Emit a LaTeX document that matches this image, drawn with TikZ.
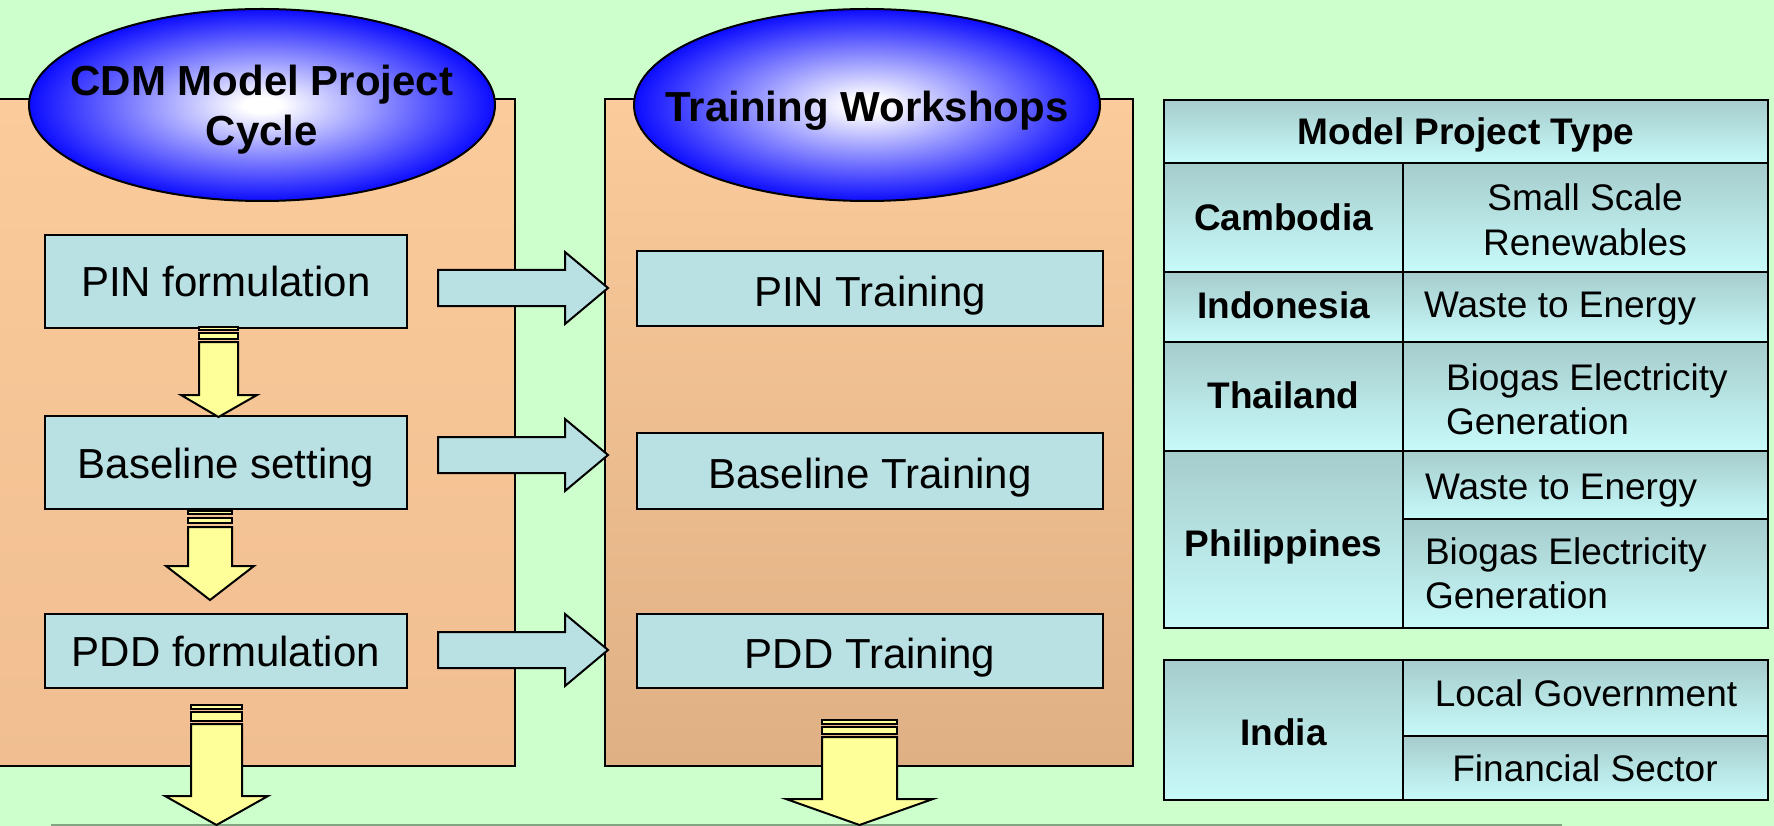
\documentclass[tikz,border=0pt]{standalone}
\usepackage{fontspec}
\setmainfont{Liberation Sans}
\usetikzlibrary{shapes.geometric}
\definecolor{bg}{RGB}{204,255,204}
\definecolor{peachtop}{RGB}{251,203,155}
\definecolor{peachA}{RGB}{240,190,145}
\definecolor{peachB}{RGB}{223,176,132}
\definecolor{boxblue}{RGB}{185,224,227}
\definecolor{celltop}{RGB}{166,204,204}
\definecolor{cellbot}{RGB}{200,250,250}
\definecolor{arrowyellow}{RGB}{255,255,153}
\definecolor{ellblue}{RGB}{12,12,255}
\definecolor{edgegray}{RGB}{128,165,128}
\pgfdeclareradialshading{ellshade}{\pgfpoint{0bp}{0bp}}{color(0bp)=(white); color(2bp)=(white); color(25bp)=(ellblue); color(50bp)=(ellblue)}
\newcommand{\rightblock}[1]{%
  \draw[barrow] (438,#1-18) -- (565,#1-18) -- (565,#1-36) -- (608,#1) -- (565,#1+36) -- (565,#1+18) -- (438,#1+18) -- cycle;}
\begin{document}
\begin{tikzpicture}[x=1pt,y=-1pt,
  line width=2pt, line join=miter,
  panel/.style={draw=black, line width=2pt},
  ell/.style={ellipse, draw=black, line width=2pt, shade, shading=ellshade, inner sep=0pt, minimum width=466pt, minimum height=192pt},
  elltext/.style={font=\fontsize{42}{50}\selectfont\bfseries, align=center, inner sep=0pt},
  stepbox/.style={rectangle, draw=black, line width=2pt, fill=boxblue, inner sep=0pt, font=\fontsize{42}{50}\selectfont, text height=31pt, text depth=0pt},
  cell/.style={rectangle, draw=black, line width=2pt, top color=celltop, bottom color=cellbot, inner sep=0pt},
  ctext/.style={font=\fontsize{37}{45}\selectfont, align=center, inner sep=0pt, text depth=0pt},
  ltext/.style={font=\fontsize{37}{44}\selectfont, align=left, inner sep=0pt, anchor=west, text depth=0pt},
  btext/.style={font=\fontsize{37}{45}\selectfont\bfseries, inner sep=0pt, text depth=0pt},
  yarrow/.style={draw=black, line width=2pt, fill=arrowyellow},
  barrow/.style={draw=black, line width=2pt, fill=boxblue}]
\useasboundingbox (0,0) rectangle (1774,826);
\fill[bg] (0,0) rectangle (1774,826);
\draw[edgegray, line width=2pt] (51,825) -- (1562,825);

% panels
\draw[panel, top color=peachtop, bottom color=peachA] (-5,99) rectangle (515,766);
\draw[panel, top color=peachtop, bottom color=peachB] (605,99) rectangle (1133,766);

% ellipses
\node[ell] (e1) at (262,105) {};
\node[elltext] (e1t) at (262,110) {CDM Model Project\\Cycle};
\node[ell] (e2) at (867,105) {};
\node[elltext] (e2t) at (867,111) {Training Workshops};

% left column boxes
\node[stepbox, minimum width=362pt, minimum height=93pt] (pinf) at (226,281.5) {PIN formulation};
\node[stepbox, minimum width=362pt, minimum height=93pt] (basef) at (226,462.5) {Baseline setting};
\node[stepbox, minimum width=362pt, minimum height=74pt] (pddf) at (226,651) {PDD formulation};

% middle column boxes
\node[stepbox, minimum width=466pt, minimum height=75pt] (pint) at (870,288.5) {};
\node[stepbox, draw=none, fill=none] (pintt) at (870,291) {PIN Training};
\node[stepbox, minimum width=466pt, minimum height=76pt] (baset) at (870,471) {};
\node[stepbox, draw=none, fill=none] (basett) at (870,473) {Baseline Training};
\node[stepbox, minimum width=466pt, minimum height=74pt] (pddt) at (870,651) {};
\node[stepbox, draw=none, fill=none] (pddtt) at (870,653) {PDD Training};

% right block arrows
\rightblock{288}
\rightblock{455}
\rightblock{650}

% down arrow A
\draw[yarrow] (199,327) rectangle (238,330);
\draw[yarrow] (199,333) rectangle (238,339);
\draw[yarrow] (199,342) -- (238,342) -- (238,395) -- (257,395) -- (218.5,417) -- (181,395) -- (199,395) -- cycle;
% down arrow B
\draw[yarrow] (188,511) rectangle (232,514);
\draw[yarrow] (188,518) rectangle (232,523);
\draw[yarrow] (188,527) -- (232,527) -- (232,566) -- (254,566) -- (210,600) -- (166,566) -- (188,566) -- cycle;
% down arrow C
\draw[yarrow] (191,705) rectangle (242,709);
\draw[yarrow] (191,712) rectangle (242,721);
\draw[yarrow] (191,724) -- (242,724) -- (242,796) -- (268,796) -- (216.5,825) -- (165,796) -- (191,796) -- cycle;
% down arrow D
\draw[yarrow] (822,720) rectangle (897,724);
\draw[yarrow] (822,727) rectangle (897,734);
\draw[yarrow] (822,737) -- (897,737) -- (897,799) -- (933,799) -- (859.5,825) -- (786,799) -- (822,799) -- cycle;

% main table
\node[cell, minimum width=604pt, minimum height=63pt] (hdr) at (1466,131.5) {};
\node[btext] (hdrt) at (hdr.center) {Model Project Type};
\node[cell, minimum width=239pt, minimum height=109pt] (kh) at (1283.5,217.5) {};
\node[btext] (kht) at (kh.center) {Cambodia};
\node[cell, minimum width=365pt, minimum height=109pt] (khv) at (1585.5,217.5) {};
\node[ctext] (khvt) at (1585,219.5) {Small Scale\\Renewables};
\node[cell, minimum width=239pt, minimum height=70pt] (id) at (1283.5,307) {};
\node[btext] (idt) at (1283.5,305) {Indonesia};
\node[cell, minimum width=365pt, minimum height=70pt] (idv) at (1585.5,307) {};
\node[ltext] (idvt) at (1423,305) {Waste to Energy};
\node[cell, minimum width=239pt, minimum height=109pt] (th) at (1283.5,396.5) {};
\node[btext] (tht) at (1283.5,395) {Thailand};
\node[cell, minimum width=365pt, minimum height=109pt] (thv) at (1585.5,396.5) {};
\node[ltext] (thvt) at (1445,399.5) {Biogas Electricity\\Generation};
\node[cell, minimum width=239pt, minimum height=177pt] (ph) at (1283.5,539.5) {};
\node[btext] (pht) at (1283.5,543) {Philippines};
\node[cell, minimum width=365pt, minimum height=68pt] (phv1) at (1585.5,485) {};
\node[ltext] (phv1t) at (1424,487) {Waste to Energy};
\node[cell, minimum width=365pt, minimum height=109pt] (phv2) at (1585.5,573.5) {};
\node[ltext] (phv2t) at (1424,573.5) {Biogas Electricity\\Generation};

% India table
\node[cell, minimum width=239pt, minimum height=140pt] (in) at (1283.5,730) {};
\node[btext] (int) at (1283.5,732) {India};
\node[cell, minimum width=365pt, minimum height=76pt] (inv1) at (1585.5,698) {};
\node[ctext] (inv1t) at (1586,693) {Local Government};
\node[cell, minimum width=365pt, minimum height=64pt] (inv2) at (1585.5,768) {};
\node[ctext] (inv2t) at (1585,768) {Financial Sector};
\end{tikzpicture}
\end{document}
